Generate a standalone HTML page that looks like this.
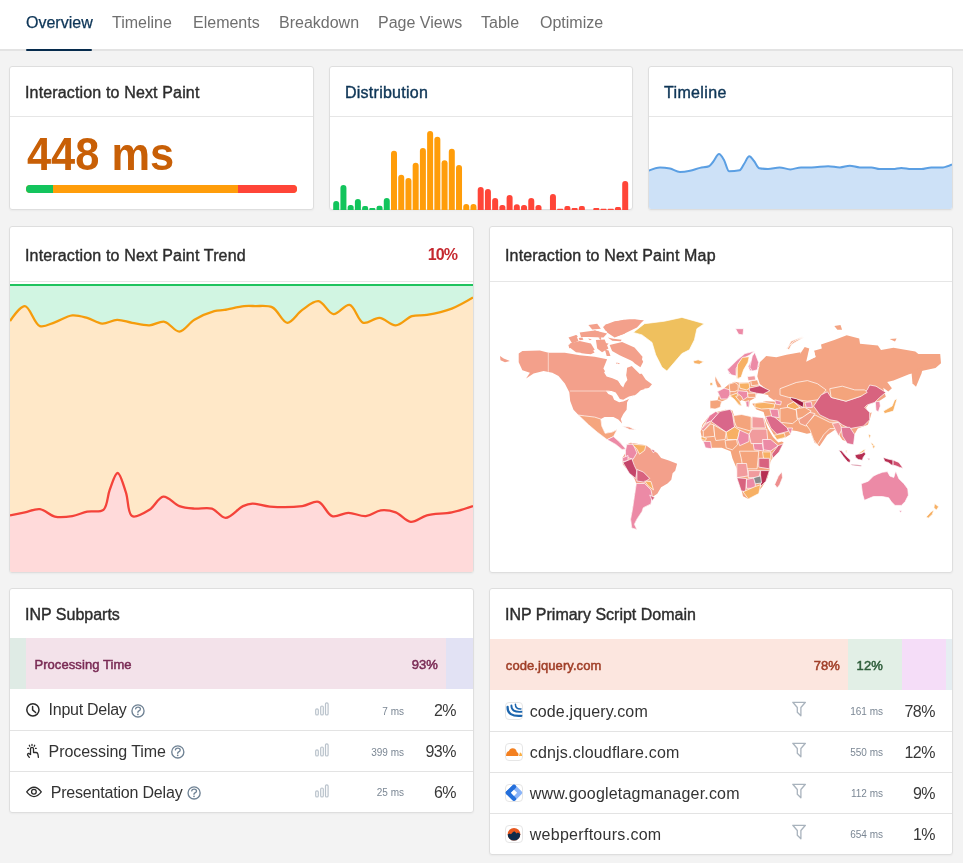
<!DOCTYPE html>
<html><head><meta charset="utf-8">
<style>
*{box-sizing:border-box;margin:0;padding:0}
html,body{width:963px;height:863px;overflow:hidden;background:#f3f3f3;font-family:"Liberation Sans",sans-serif;color:#2b2b2b}
.a{position:absolute;white-space:nowrap;line-height:1}
#nav{position:absolute;left:0;top:0;width:963px;height:49px;background:#fff}
#navline{position:absolute;left:0;top:49px;width:963px;height:2px;background:#e3e3e3}
.nv{position:absolute;top:14.5px;font-size:16px;line-height:1;color:#6f6f6f}
.nv.act{color:#0d3557;-webkit-text-stroke:0.25px #0d3557}
#ul{position:absolute;left:26px;top:49px;width:66px;height:2px;background:#062b4d;border-radius:1px}
.card{position:absolute;background:#fff;border:1px solid #dedede;border-radius:3px;box-shadow:0 1px 2px rgba(0,0,0,0.04);overflow:hidden}
.ht{position:absolute;font-size:16px;line-height:1;white-space:nowrap;color:#2d2d2d;-webkit-text-stroke:0.4px #2d2d2d;letter-spacing:0.15px}
.ht.link{color:#0e3556;-webkit-text-stroke:0.4px #0e3556}
.hdiv{position:absolute;height:1px;background:#e6e6e6}
.rowt{position:absolute;font-size:16px;line-height:1;white-space:nowrap;color:#333}
.ms{position:absolute;font-size:10px;line-height:1;white-space:nowrap;color:#7b8794;text-align:right}
.pct{position:absolute;font-size:16px;line-height:1;white-space:nowrap;color:#383838;text-align:right;letter-spacing:-0.5px;margin-top:1px}
.rdiv{position:absolute;height:1px;background:#e3e3e3}
.bt{position:absolute;font-size:13px;line-height:1;white-space:nowrap;font-weight:normal;letter-spacing:0.08px;-webkit-text-stroke:0.5px currentColor}
svg.ov{position:absolute;left:0;top:0}
</style></head>
<body>
<div id="root" style="position:absolute;left:0;top:0;width:963px;height:863px;will-change:transform">
<div id="nav"></div>
<div id="navline"></div>
<div class="nv act" style="left:26px">Overview</div>
<div class="nv" style="left:112px">Timeline</div>
<div class="nv" style="left:193px">Elements</div>
<div class="nv" style="left:279px">Breakdown</div>
<div class="nv" style="left:378px">Page Views</div>
<div class="nv" style="left:481px">Table</div>
<div class="nv" style="left:540px">Optimize</div>
<div id="ul"></div>

<!-- cards -->
<div class="card" style="left:9px;top:66px;width:305px;height:144px"></div>
<div class="card" style="left:329px;top:66px;width:304px;height:144px"></div>
<div class="card" style="left:648px;top:66px;width:305px;height:144px"></div>
<div class="card" style="left:9px;top:226px;width:465px;height:347px"></div>
<div class="card" style="left:489px;top:226px;width:464px;height:347px"></div>
<div class="card" style="left:9px;top:588px;width:465px;height:225px"></div>
<div class="card" style="left:489px;top:588px;width:464px;height:267px"></div>

<div class="hdiv" style="left:10px;top:116px;width:303px"></div>
<div class="hdiv" style="left:330px;top:116px;width:302px"></div>
<div class="hdiv" style="left:649px;top:116px;width:303px"></div>
<div class="hdiv" style="left:10px;top:281px;width:463px"></div>
<div class="hdiv" style="left:490px;top:281px;width:462px"></div>

<div class="ht" style="left:25px;top:84.5px">Interaction to Next Paint</div>
<div class="ht link" style="left:345px;top:84.5px;letter-spacing:0.25px">Distribution</div>
<div class="ht link" style="left:664px;top:84.5px;letter-spacing:0.35px">Timeline</div>
<div class="ht" style="left:25px;top:247.5px">Interaction to Next Paint Trend</div>
<div class="ht" style="left:505px;top:247.5px">Interaction to Next Paint Map</div>
<div class="ht" style="left:25px;top:607px;letter-spacing:0px">INP Subparts</div>
<div class="ht" style="left:505px;top:607px;letter-spacing:0px">INP Primary Script Domain</div>

<div class="a" style="left:26.8px;top:131px;font-size:46px;font-weight:bold;color:#c85f06;transform:scaleX(0.943);transform-origin:0 0">448 ms</div>
<div class="a" style="left:26px;top:185px;width:271px;height:8px;border-radius:4px;overflow:hidden;background:#ff9d0a">
  <div style="position:absolute;left:0;top:0;width:27px;height:8px;background:#13c45d"></div>
  <div style="position:absolute;left:212px;top:0;width:59px;height:8px;background:#ff4538"></div>
</div>
<div class="a" style="left:417px;top:246.5px;font-size:16px;font-weight:bold;letter-spacing:-0.9px;color:#c5282f;width:40px;text-align:right">10%</div>

<!-- charts overlay -->
<svg class="ov" width="963" height="863" viewBox="0 0 963 863">
  <defs>
    <clipPath id="c2"><rect x="330" y="117" width="302" height="93" /></clipPath>
    <clipPath id="c3"><rect x="649" y="117" width="303" height="92" rx="2"/></clipPath>
    <clipPath id="c4"><rect x="10" y="282" width="463" height="290" rx="2"/></clipPath>
  </defs>
  <g clip-path="url(#c2)">
<path d="M333.20,210.00 V204.00 Q333.20,201.00 336.20,201.00 H336.20 Q339.20,201.00 339.20,204.00 V210.00 Z" fill="#12c45c"/>
<path d="M340.43,210.00 V188.10 Q340.43,185.10 343.43,185.10 H343.43 Q346.43,185.10 346.43,188.10 V210.00 Z" fill="#12c45c"/>
<path d="M347.65,210.00 V207.45 Q347.65,204.90 350.20,204.90 H351.10 Q353.65,204.90 353.65,207.45 V210.00 Z" fill="#12c45c"/>
<path d="M354.88,210.00 V202.10 Q354.88,199.10 357.88,199.10 H357.88 Q360.88,199.10 360.88,202.10 V210.00 Z" fill="#12c45c"/>
<path d="M362.10,210.00 V208.00 Q362.10,206.00 364.10,206.00 H366.10 Q368.10,206.00 368.10,208.00 V210.00 Z" fill="#12c45c"/>
<path d="M369.32,210.00 V209.00 Q369.32,208.00 370.32,208.00 H374.32 Q375.32,208.00 375.32,209.00 V210.00 Z" fill="#12c45c"/>
<path d="M376.55,210.00 V207.85 Q376.55,205.70 378.70,205.70 H380.40 Q382.55,205.70 382.55,207.85 V210.00 Z" fill="#12c45c"/>
<path d="M383.77,210.00 V200.90 Q383.77,197.90 386.77,197.90 H386.77 Q389.77,197.90 389.77,200.90 V210.00 Z" fill="#12c45c"/>
<path d="M391.00,210.00 V153.80 Q391.00,150.80 394.00,150.80 H394.00 Q397.00,150.80 397.00,153.80 V210.00 Z" fill="#ff9d0a"/>
<path d="M398.22,210.00 V177.80 Q398.22,174.80 401.22,174.80 H401.22 Q404.22,174.80 404.22,177.80 V210.00 Z" fill="#ff9d0a"/>
<path d="M405.45,210.00 V180.90 Q405.45,177.90 408.45,177.90 H408.45 Q411.45,177.90 411.45,180.90 V210.00 Z" fill="#ff9d0a"/>
<path d="M412.67,210.00 V165.80 Q412.67,162.80 415.67,162.80 H415.67 Q418.67,162.80 418.67,165.80 V210.00 Z" fill="#ff9d0a"/>
<path d="M419.90,210.00 V151.00 Q419.90,148.00 422.90,148.00 H422.90 Q425.90,148.00 425.90,151.00 V210.00 Z" fill="#ff9d0a"/>
<path d="M427.12,210.00 V133.90 Q427.12,130.90 430.12,130.90 H430.12 Q433.12,130.90 433.12,133.90 V210.00 Z" fill="#ff9d0a"/>
<path d="M434.35,210.00 V139.80 Q434.35,136.80 437.35,136.80 H437.35 Q440.35,136.80 440.35,139.80 V210.00 Z" fill="#ff9d0a"/>
<path d="M441.57,210.00 V163.20 Q441.57,160.20 444.57,160.20 H444.57 Q447.57,160.20 447.57,163.20 V210.00 Z" fill="#ff9d0a"/>
<path d="M448.80,210.00 V151.80 Q448.80,148.80 451.80,148.80 H451.80 Q454.80,148.80 454.80,151.80 V210.00 Z" fill="#ff9d0a"/>
<path d="M456.02,210.00 V167.90 Q456.02,164.90 459.02,164.90 H459.02 Q462.02,164.90 462.02,167.90 V210.00 Z" fill="#ff9d0a"/>
<path d="M463.25,210.00 V207.05 Q463.25,204.10 466.20,204.10 H466.30 Q469.25,204.10 469.25,207.05 V210.00 Z" fill="#ff9d0a"/>
<path d="M470.48,210.00 V207.05 Q470.48,204.10 473.43,204.10 H473.53 Q476.48,204.10 476.48,207.05 V210.00 Z" fill="#ff9d0a"/>
<path d="M477.70,210.00 V190.00 Q477.70,187.00 480.70,187.00 H480.70 Q483.70,187.00 483.70,190.00 V210.00 Z" fill="#ff4538"/>
<path d="M484.92,210.00 V192.10 Q484.92,189.10 487.92,189.10 H487.92 Q490.92,189.10 490.92,192.10 V210.00 Z" fill="#ff4538"/>
<path d="M492.15,210.00 V201.00 Q492.15,198.00 495.15,198.00 H495.15 Q498.15,198.00 498.15,201.00 V210.00 Z" fill="#ff4538"/>
<path d="M499.38,210.00 V207.45 Q499.38,204.90 501.93,204.90 H502.82 Q505.38,204.90 505.38,207.45 V210.00 Z" fill="#ff4538"/>
<path d="M506.60,210.00 V198.10 Q506.60,195.10 509.60,195.10 H509.60 Q512.60,195.10 512.60,198.10 V210.00 Z" fill="#ff4538"/>
<path d="M513.83,210.00 V207.10 Q513.83,204.20 516.73,204.20 H516.93 Q519.83,204.20 519.83,207.10 V210.00 Z" fill="#ff4538"/>
<path d="M521.05,210.00 V207.45 Q521.05,204.90 523.60,204.90 H524.50 Q527.05,204.90 527.05,207.45 V210.00 Z" fill="#ff4538"/>
<path d="M528.27,210.00 V201.00 Q528.27,198.00 531.27,198.00 H531.27 Q534.27,198.00 534.27,201.00 V210.00 Z" fill="#ff4538"/>
<path d="M535.50,210.00 V207.45 Q535.50,204.90 538.05,204.90 H538.95 Q541.50,204.90 541.50,207.45 V210.00 Z" fill="#ff4538"/>
<path d="M549.95,210.00 V197.00 Q549.95,194.00 552.95,194.00 H552.95 Q555.95,194.00 555.95,197.00 V210.00 Z" fill="#ff4538"/>
<path d="M557.17,210.00 V209.40 Q557.17,208.80 557.77,208.80 H562.57 Q563.17,208.80 563.17,209.40 V210.00 Z" fill="#ff4538"/>
<path d="M564.40,210.00 V208.00 Q564.40,206.00 566.40,206.00 H568.40 Q570.40,206.00 570.40,208.00 V210.00 Z" fill="#ff4538"/>
<path d="M571.62,210.00 V209.00 Q571.62,208.00 572.62,208.00 H576.62 Q577.62,208.00 577.62,209.00 V210.00 Z" fill="#ff4538"/>
<path d="M578.85,210.00 V208.00 Q578.85,206.00 580.85,206.00 H582.85 Q584.85,206.00 584.85,208.00 V210.00 Z" fill="#ff4538"/>
<path d="M593.30,210.00 V209.00 Q593.30,208.00 594.30,208.00 H598.30 Q599.30,208.00 599.30,209.00 V210.00 Z" fill="#ff4538"/>
<path d="M600.52,210.00 V209.40 Q600.52,208.80 601.12,208.80 H605.92 Q606.52,208.80 606.52,209.40 V210.00 Z" fill="#ff4538"/>
<path d="M607.75,210.00 V209.40 Q607.75,208.80 608.35,208.80 H613.15 Q613.75,208.80 613.75,209.40 V210.00 Z" fill="#ff4538"/>
<path d="M614.97,210.00 V208.50 Q614.97,207.00 616.47,207.00 H619.47 Q620.97,207.00 620.97,208.50 V210.00 Z" fill="#ff4538"/>
<path d="M622.20,210.00 V184.00 Q622.20,181.00 625.20,181.00 H625.20 Q628.20,181.00 628.20,184.00 V210.00 Z" fill="#ff4538"/>
  </g>
  <g clip-path="url(#c3)">
    <path d="M648.70,170.70 C652.47,169.05 656.23,167.40 660.00,167.40 C663.33,167.40 666.67,167.85 670.00,168.60 C673.33,169.35 676.67,171.90 680.00,171.90 C683.33,171.90 686.67,171.37 690.00,170.70 C693.33,170.03 696.67,168.67 700.00,167.90 C703.00,167.20 706.00,167.33 709.00,166.20 C710.33,165.70 711.67,163.54 713.00,162.00 C715.00,159.69 717.00,154.10 719.00,154.10 C720.67,154.10 722.33,157.15 724.00,160.00 C725.67,162.85 727.33,171.20 729.00,171.20 C732.57,171.20 736.13,170.87 739.70,170.20 C741.13,169.93 742.57,166.07 744.00,164.00 C745.77,161.44 747.53,156.30 749.30,156.30 C750.87,156.30 752.43,159.17 754.00,161.00 C755.77,163.06 757.53,167.88 759.30,168.20 C762.20,168.73 765.10,169.00 768.00,169.00 C771.87,169.00 775.73,167.40 779.60,167.40 C783.17,167.40 786.73,169.40 790.30,169.40 C793.87,169.40 797.43,167.40 801.00,167.40 C804.53,167.40 808.07,167.40 811.60,167.40 C817.13,167.40 822.67,166.20 828.20,166.20 C832.10,166.20 836.00,167.40 839.90,167.40 C843.20,167.40 846.50,165.70 849.80,165.70 C853.13,165.70 856.47,167.40 859.80,167.40 C863.67,167.40 867.53,167.40 871.40,167.40 C874.17,167.40 876.93,169.10 879.70,169.10 C884.13,169.10 888.57,169.10 893.00,169.10 C895.77,169.10 898.53,167.90 901.30,167.90 C904.63,167.90 907.97,169.10 911.30,169.10 C914.63,169.10 917.97,169.10 921.30,169.10 C924.63,169.10 927.97,167.40 931.30,167.40 C935.20,167.40 939.10,167.40 943.00,167.40 C946.00,167.40 949.00,165.95 952.00,164.50 L952,212 L648,212 Z" fill="#cde1f7"/>
    <path d="M648.70,170.70 C652.47,169.05 656.23,167.40 660.00,167.40 C663.33,167.40 666.67,167.85 670.00,168.60 C673.33,169.35 676.67,171.90 680.00,171.90 C683.33,171.90 686.67,171.37 690.00,170.70 C693.33,170.03 696.67,168.67 700.00,167.90 C703.00,167.20 706.00,167.33 709.00,166.20 C710.33,165.70 711.67,163.54 713.00,162.00 C715.00,159.69 717.00,154.10 719.00,154.10 C720.67,154.10 722.33,157.15 724.00,160.00 C725.67,162.85 727.33,171.20 729.00,171.20 C732.57,171.20 736.13,170.87 739.70,170.20 C741.13,169.93 742.57,166.07 744.00,164.00 C745.77,161.44 747.53,156.30 749.30,156.30 C750.87,156.30 752.43,159.17 754.00,161.00 C755.77,163.06 757.53,167.88 759.30,168.20 C762.20,168.73 765.10,169.00 768.00,169.00 C771.87,169.00 775.73,167.40 779.60,167.40 C783.17,167.40 786.73,169.40 790.30,169.40 C793.87,169.40 797.43,167.40 801.00,167.40 C804.53,167.40 808.07,167.40 811.60,167.40 C817.13,167.40 822.67,166.20 828.20,166.20 C832.10,166.20 836.00,167.40 839.90,167.40 C843.20,167.40 846.50,165.70 849.80,165.70 C853.13,165.70 856.47,167.40 859.80,167.40 C863.67,167.40 867.53,167.40 871.40,167.40 C874.17,167.40 876.93,169.10 879.70,169.10 C884.13,169.10 888.57,169.10 893.00,169.10 C895.77,169.10 898.53,167.90 901.30,167.90 C904.63,167.90 907.97,169.10 911.30,169.10 C914.63,169.10 917.97,169.10 921.30,169.10 C924.63,169.10 927.97,167.40 931.30,167.40 C935.20,167.40 939.10,167.40 943.00,167.40 C946.00,167.40 949.00,165.95 952.00,164.50" fill="none" stroke="#5b9fe3" stroke-width="2"/>
  </g>
  <g clip-path="url(#c4)">
    <rect x="10" y="285" width="463" height="288" fill="#d1f5e2"/>
    <path d="M10.00,321.10 C10.00,321.10 20.11,305.77 24.90,306.10 C30.11,306.46 34.15,324.07 39.90,326.10 C44.41,327.69 49.69,323.95 54.80,322.30 C60.45,320.47 66.62,316.00 72.30,315.40 C77.39,314.87 82.29,316.57 87.20,317.90 C92.26,319.27 97.16,323.31 102.20,323.60 C107.13,323.88 112.11,319.93 117.10,319.80 C122.08,319.67 126.90,321.91 132.10,322.80 C137.67,323.76 143.94,325.54 149.50,325.30 C154.71,325.07 159.69,320.94 164.50,321.80 C169.68,322.72 174.50,331.81 179.40,331.60 C184.47,331.38 188.81,323.15 194.40,319.80 C200.36,316.23 208.70,312.62 214.30,311.10 C218.11,310.06 220.41,310.50 224.30,309.90 C229.82,309.04 238.55,306.63 244.20,306.10 C248.32,305.71 250.98,305.95 255.00,306.10 C260.11,306.29 267.23,304.97 272.40,307.40 C278.13,310.09 282.21,322.57 287.30,322.80 C292.19,323.02 296.99,313.54 302.30,309.90 C307.42,306.39 313.40,300.63 318.50,301.20 C323.78,301.79 328.14,313.58 333.40,314.10 C338.52,314.61 344.79,303.92 349.60,304.90 C354.89,305.97 357.84,321.04 363.30,322.80 C368.03,324.33 374.17,317.54 379.50,317.90 C384.97,318.27 390.35,325.53 395.70,325.30 C401.19,325.07 406.50,317.78 412.00,316.10 C416.91,314.60 421.34,315.82 426.90,314.90 C434.18,313.69 444.00,311.58 451.80,308.60 C459.33,305.72 473.00,297.50 473.00,297.50 L473,573 L10,573 Z" fill="#ffe8c8"/>
    <path d="M10.00,515.30 C10.00,515.30 19.93,513.33 24.90,512.30 C29.89,511.26 35.02,508.47 39.90,509.10 C44.99,509.76 49.47,515.42 54.80,516.60 C60.26,517.81 66.76,517.00 72.30,516.10 C77.53,515.25 82.08,512.65 87.20,511.60 C92.44,510.53 99.66,512.87 103.40,509.80 C107.63,506.33 107.25,496.19 109.70,489.90 C112.02,483.96 114.98,472.96 117.60,473.00 C120.38,473.05 123.54,485.52 125.90,492.40 C128.44,499.82 127.57,513.72 132.10,516.10 C136.04,518.17 144.33,513.01 149.50,509.80 C154.75,506.54 158.29,497.18 163.30,496.60 C168.26,496.03 173.94,504.11 179.40,506.10 C184.32,507.89 189.19,508.17 194.40,508.60 C199.99,509.06 206.64,507.00 211.90,508.60 C217.01,510.16 220.76,517.80 225.60,517.80 C231.05,517.80 237.91,508.41 243.00,506.10 C246.46,504.53 248.76,503.76 252.40,503.60 C257.31,503.38 263.15,506.08 269.90,506.60 C279.02,507.31 293.41,507.30 302.30,506.10 C308.69,505.24 313.67,500.54 318.50,501.90 C323.74,503.38 326.94,514.47 332.20,516.10 C337.02,517.60 342.90,512.84 348.40,512.80 C354.09,512.76 360.28,516.60 365.80,516.10 C371.06,515.62 375.73,510.90 380.80,510.30 C385.70,509.72 390.91,510.56 395.70,512.30 C400.91,514.19 405.48,521.32 410.70,521.80 C415.88,522.28 420.81,516.86 426.90,515.30 C434.20,513.43 443.90,513.92 451.80,512.30 C459.22,510.78 473.00,506.10 473.00,506.10 L473,573 L10,573 Z" fill="#ffdada"/>
    <line x1="10" y1="284.9" x2="473" y2="284.9" stroke="#1fc35e" stroke-width="2"/>
    <path d="M10.00,321.10 C10.00,321.10 20.11,305.77 24.90,306.10 C30.11,306.46 34.15,324.07 39.90,326.10 C44.41,327.69 49.69,323.95 54.80,322.30 C60.45,320.47 66.62,316.00 72.30,315.40 C77.39,314.87 82.29,316.57 87.20,317.90 C92.26,319.27 97.16,323.31 102.20,323.60 C107.13,323.88 112.11,319.93 117.10,319.80 C122.08,319.67 126.90,321.91 132.10,322.80 C137.67,323.76 143.94,325.54 149.50,325.30 C154.71,325.07 159.69,320.94 164.50,321.80 C169.68,322.72 174.50,331.81 179.40,331.60 C184.47,331.38 188.81,323.15 194.40,319.80 C200.36,316.23 208.70,312.62 214.30,311.10 C218.11,310.06 220.41,310.50 224.30,309.90 C229.82,309.04 238.55,306.63 244.20,306.10 C248.32,305.71 250.98,305.95 255.00,306.10 C260.11,306.29 267.23,304.97 272.40,307.40 C278.13,310.09 282.21,322.57 287.30,322.80 C292.19,323.02 296.99,313.54 302.30,309.90 C307.42,306.39 313.40,300.63 318.50,301.20 C323.78,301.79 328.14,313.58 333.40,314.10 C338.52,314.61 344.79,303.92 349.60,304.90 C354.89,305.97 357.84,321.04 363.30,322.80 C368.03,324.33 374.17,317.54 379.50,317.90 C384.97,318.27 390.35,325.53 395.70,325.30 C401.19,325.07 406.50,317.78 412.00,316.10 C416.91,314.60 421.34,315.82 426.90,314.90 C434.18,313.69 444.00,311.58 451.80,308.60 C459.33,305.72 473.00,297.50 473.00,297.50" fill="none" stroke="#f59c0c" stroke-width="2.3"/>
    <path d="M10.00,515.30 C10.00,515.30 19.93,513.33 24.90,512.30 C29.89,511.26 35.02,508.47 39.90,509.10 C44.99,509.76 49.47,515.42 54.80,516.60 C60.26,517.81 66.76,517.00 72.30,516.10 C77.53,515.25 82.08,512.65 87.20,511.60 C92.44,510.53 99.66,512.87 103.40,509.80 C107.63,506.33 107.25,496.19 109.70,489.90 C112.02,483.96 114.98,472.96 117.60,473.00 C120.38,473.05 123.54,485.52 125.90,492.40 C128.44,499.82 127.57,513.72 132.10,516.10 C136.04,518.17 144.33,513.01 149.50,509.80 C154.75,506.54 158.29,497.18 163.30,496.60 C168.26,496.03 173.94,504.11 179.40,506.10 C184.32,507.89 189.19,508.17 194.40,508.60 C199.99,509.06 206.64,507.00 211.90,508.60 C217.01,510.16 220.76,517.80 225.60,517.80 C231.05,517.80 237.91,508.41 243.00,506.10 C246.46,504.53 248.76,503.76 252.40,503.60 C257.31,503.38 263.15,506.08 269.90,506.60 C279.02,507.31 293.41,507.30 302.30,506.10 C308.69,505.24 313.67,500.54 318.50,501.90 C323.74,503.38 326.94,514.47 332.20,516.10 C337.02,517.60 342.90,512.84 348.40,512.80 C354.09,512.76 360.28,516.60 365.80,516.10 C371.06,515.62 375.73,510.90 380.80,510.30 C385.70,509.72 390.91,510.56 395.70,512.30 C400.91,514.19 405.48,521.32 410.70,521.80 C415.88,522.28 420.81,516.86 426.90,515.30 C434.20,513.43 443.90,513.92 451.80,512.30 C459.22,510.78 473.00,506.10 473.00,506.10" fill="none" stroke="#f4433a" stroke-width="2.3"/>
  </g>
</svg>

<!-- map -->
<svg class="ov" width="963" height="863" viewBox="0 0 963 863">
<g>
<polygon points="518.7,353.6 522.4,351.1 539.8,350.6 548.6,352.8 564.8,352.8 579.7,355.3 594.7,356.8 607.1,359.3 603.4,368.5 607.1,374.8 615.9,377.8 622.1,386.0 625.8,377.3 627.1,367.8 634.0,365.3 640.8,372.3 645.8,379.8 652.0,384.2 649.0,387.7 640.8,390.2 635.8,394.7 629.6,397.7 627.1,402.2 626.6,409.7 623.3,414.1 620.8,419.1 622.1,423.4 618.3,419.6 613.4,417.1 604.6,417.1 600.9,419.1 601.7,425.9 605.1,433.3 612.1,432.1 617.1,429.6 613.4,436.6 619.6,442.1 625.8,449.0 622.1,449.5 615.9,444.5 607.1,439.6 597.2,432.1 588.4,424.6 582.7,419.1 578.5,415.1 573.5,409.7 570.2,400.9 569.3,392.2 564.8,383.5 558.5,376.0 552.3,372.8 543.6,371.0 533.6,373.5 526.1,378.5 529.9,372.8 522.4,370.3 518.7,362.3" fill="#f3a08b"/>
<polygon points="612.3,322.5 623.6,319.7 634.8,319.2 644.1,320.6 636.6,324.3 627.3,327.1 624.5,333.7 616.1,336.5 617.9,330.0 614.2,326.2" fill="#f3a08b"/>
<polygon points="603.0,327.1 606.7,324.3 612.3,328.1 610.5,331.8 605.8,330.9" fill="#f3a08b"/>
<polygon points="607.7,337.4 613.3,338.8 621.7,339.8 620.7,341.2 612.3,340.7" fill="#f3a08b"/>
<polygon points="611.4,345.8 615.1,344.0 620.7,344.9 627.3,347.7 632.9,351.4 641.3,358.0 643.2,361.7 640.4,367.3 634.8,363.6 629.2,358.0 621.7,354.3 616.1,351.4 612.3,349.6" fill="#f3a08b"/>
<polygon points="576.8,346.8 583.4,345.8 589.9,346.8 594.6,352.4 590.8,354.3 581.5,353.3 578.7,350.5" fill="#f3a08b"/>
<polygon points="568.4,344.9 573.1,342.6 577.8,344.0 574.0,347.7 569.3,348.2" fill="#f3a08b"/>
<polygon points="572.1,337.4 576.8,335.1 577.8,337.0 573.1,337.9" fill="#f3a08b"/>
<polygon points="578.7,337.9 582.4,337.4 583.4,339.8 579.6,340.2" fill="#f3a08b"/>
<polygon points="597.4,344.0 601.1,343.5 601.6,348.2 598.3,347.7" fill="#f3a08b"/>
<polygon points="603.9,343.0 608.6,343.5 606.7,345.8 603.9,345.8" fill="#f3a08b"/>
<polygon points="598.3,337.4 601.1,337.0 601.1,340.2" fill="#f3a08b"/>
<polygon points="588.0,338.4 591.8,339.3 589.9,340.2" fill="#f3a08b"/>
<polygon points="593.6,330.0 599.3,331.8 597.4,332.8" fill="#f3a08b"/>
<polygon points="604.9,349.6 608.6,350.5 610.5,356.1 606.7,356.1" fill="#f3a08b"/>
<polygon points="615.1,361.7 619.8,363.6 617.9,365.5" fill="#f3a08b"/>
<polygon points="609.6,344.9 622.1,341.9 634.5,347.4 642.5,356.8 640.8,365.3 632.1,361.1 619.6,355.3 612.1,351.1" fill="#f3a08b"/>
<polygon points="604.6,324.9 614.6,321.2 629.6,319.4 643.3,320.4 637.0,327.4 624.6,333.6 614.6,337.4 607.1,332.4" fill="#f3a08b"/>
<polygon points="569.8,343.6 579.7,341.1 590.9,343.6 594.7,349.8 588.4,353.6 576.0,352.3 571.0,348.6" fill="#f3a08b"/>
<polygon points="568.5,337.4 576.0,334.9 578.5,341.1 572.2,343.6" fill="#f3a08b"/>
<polygon points="579.7,332.4 594.7,330.4 607.1,333.6 603.4,337.4 589.7,336.9 581.0,336.9" fill="#f3a08b"/>
<polygon points="595.9,339.9 604.6,339.4 608.4,348.6 602.1,352.3 597.2,348.6" fill="#f3a08b"/>
<polygon points="588.4,324.9 597.2,323.7 600.9,328.7 592.2,329.4" fill="#f3a08b"/>
<polygon points="500.0,356.1 503.7,358.6 509.9,361.1 505.0,362.3 500.5,360.3" fill="#f3a08b"/>
<polygon points="626.8,444.6 630.6,442.7 635.7,443.4 645.9,445.3 651.0,449.1 657.3,452.9 661.1,458.0 668.8,460.6 677.1,463.8 675.2,470.8 672.6,473.3 671.3,479.7 667.5,483.5 661.1,487.3 657.3,493.7 653.5,496.2 651.0,498.8 651.0,503.9 643.3,507.7 642.0,511.5 636.9,519.2 634.4,524.3 636.9,529.4 631.8,528.1 630.6,519.2 632.5,509.0 634.4,496.2 636.3,483.5 634.4,478.4 629.3,472.0 622.9,464.4 622.3,458.0 625.5,452.9" fill="#f3a08b"/>
<polygon points="757.3,376.3 759.8,362.3 766.2,356.0 776.3,357.3 786.5,354.7 800.5,352.2 800.0,353.9 804.7,346.9 809.3,348.5 807.8,360.2 815.6,357.1 814.0,350.8 821.8,348.5 821.0,344.6 834.3,339.9 846.7,335.2 859.2,338.4 860.0,343.8 877.9,345.4 881.0,350.0 893.5,347.7 915.3,351.6 918.4,353.9 940.2,353.9 941.0,363.3 935.5,368.0 921.5,371.1 909.0,374.2 893.5,380.4 887.2,382.0 891.9,388.2 888.3,391.6 883.2,387.8 885.8,396.7 878.1,401.8 873.0,406.9 870.5,417.0 867.9,424.7 857.8,428.5 852.7,437.4 850.1,442.5 842.5,439.9 837.4,432.3 834.9,429.8 827.2,434.9 819.6,446.3 814.5,442.5 809.4,429.8 801.8,419.6 789.1,419.6 781.4,414.5 776.3,408.1 776.3,401.8 768.7,396.7 766.2,389.1 759.8,384.0" fill="#f4a483"/>
<polygon points="834.3,325.9 840.5,325.1 842.1,329.8 837.4,329.8" fill="#f4a483"/>
<polygon points="889.6,339.1 896.6,338.4 895.0,341.5" fill="#f4a483"/>
<polygon points="911.4,371.1 923.1,367.2 921.5,373.4 916.0,386.7 912.5,383.5" fill="#f4a483"/>
<polygon points="717.5,391.6 724.1,388.2 729.1,384.1 734.9,381.8 739.1,382.8 749.0,382.4 750.7,380.8 757.3,379.9 759.0,384.9 759.8,385.7 769.8,390.7 768.1,394.9 763.2,394.1 756.5,393.2 755.7,397.4 749.9,400.7 749.0,407.3 746.5,406.5 745.7,401.5 741.6,399.9 739.9,401.5 741.6,405.7 739.1,404.9 734.1,399.0 729.9,395.7 727.4,399.0 721.6,401.5 720.0,407.3 715.0,409.0 710.0,408.2 710.0,400.7 717.5,399.9 719.1,394.9" fill="#f4a47c"/>
<polygon points="752.2,403.8 766.2,401.3 777.6,401.8 784.0,399.7 781.9,409.9 790.3,418.6 809.4,421.1 814.0,432.3 806.9,433.8 796.7,431.0 790.3,430.3 785.2,435.4 774.3,435.4 766.7,422.6 763.6,412.0 756.5,409.4" fill="#f4a47c"/>
<polygon points="702.4,424.7 707.7,417.7 714.7,412.4 725.3,409.7 732.4,410.6 734.1,415.9 743.0,416.8 751.8,417.7 764.1,418.5 767.7,428.2 773.0,437.1 778.3,442.4 781.8,441.5 783.6,442.4 780.0,449.4 774.7,454.7 770.3,461.8 769.4,470.6 767.7,477.7 762.4,486.5 757.1,493.6 748.3,498.9 743.0,496.2 741.2,488.3 737.7,479.4 736.8,468.8 732.4,458.3 730.6,451.2 721.8,447.7 709.4,447.7 702.4,440.6 700.6,431.8" fill="#f4a47c"/>
<polygon points="765.6,416.6 772.9,415.6 787.4,428.0 792.6,428.0 790.5,434.3 785.3,437.4 777.0,439.5 770.8,428.0" fill="#f4a47c"/>
<polygon points="604.1,372.4 607.4,367.4 611.6,364.1 614.9,365.0 617.4,363.3 621.6,365.8 624.9,366.6 626.5,368.3 626.1,374.9 627.4,379.9 624.9,383.2 623.2,387.4 620.7,384.9 618.2,380.7 612.4,378.2 606.6,376.6" fill="#fff"/>
<polygon points="611.6,364.1 610.8,360.0 614.9,357.5 619.9,356.6 624.9,358.3 627.4,362.5 631.5,365.8 636.5,370.8 639.8,374.1 643.2,373.3 644.0,370.8 636.5,366.6 631.5,362.5 626.5,360.0" fill="#fff"/>
<polygon points="605.8,390.7 611.6,391.1 615.7,392.4 617.4,394.9 619.9,399.0 623.2,399.8 625.7,398.2 629.0,396.5 634.9,394.9 639.8,391.5 641.5,389.9 636.5,394.0 629.0,399.0 623.2,401.5 619.1,402.3 614.1,399.8 612.4,395.7 608.3,394.0" fill="#fff"/>
<polygon points="639.8,394.9 646.5,395.7 641.5,398.2" fill="#fff"/>
<polygon points="644.0,388.2 648.1,389.0 647.3,390.7" fill="#fff"/>
<polygon points="806.2,361.7 809.3,348.5 814.0,350.8 815.6,357.1" fill="#fff"/>
<polygon points="866.0,407.4 870.3,402.6 876.0,401.8 875.3,407.4 874.7,411.7 869.7,413.0 867.2,410.5" fill="#fff"/>
</g><g stroke="#fff" stroke-width="0.7" stroke-linejoin="round">
<polygon points="633.3,332.4 644.5,323.7 664.5,321.2 681.9,317.4 704.3,323.7 696.9,328.7 694.4,339.9 689.4,349.8 681.9,353.6 674.4,362.3 666.9,371.0 662.0,367.3 655.7,354.8 652.0,342.4 642.0,334.9" fill="#efc05e"/>
<polygon points="693.1,361.1 698.1,359.8 703.8,361.8 699.3,364.3 694.4,363.6" fill="#f7b064"/>
<polygon points="600.9,419.1 601.7,425.9 605.1,433.3 612.1,432.1 617.1,429.6 613.4,436.6 607.1,439.6 597.2,432.1 588.4,424.6 582.7,419.1 578.5,415.1 584.7,415.9 594.7,417.1" fill="#f5a57e"/>
<polygon points="613.4,436.6 619.6,442.1 625.8,449.0 622.1,449.5 615.9,444.5 607.1,439.6" fill="#ec8aa6"/>
<polygon points="622.1,425.9 629.6,427.1 635.8,430.1 629.6,429.6" fill="#f3a08b"/>
<polygon points="626.8,444.6 633.1,444.0 636.9,452.9 633.1,459.3 625.5,456.8 625.5,450.4" fill="#ec8aa6"/>
<polygon points="631.8,444.0 645.9,445.3 644.6,450.4 639.5,454.2 636.9,449.1" fill="#f7b064"/>
<polygon points="622.3,458.0 628.0,455.5 628.0,460.6 622.9,461.8" fill="#ec8aa6"/>
<polygon points="622.9,462.5 631.8,458.7 634.4,465.7 636.9,470.8 635.7,478.4 629.3,473.3" fill="#c4456a"/>
<polygon points="636.9,469.5 643.3,472.0 649.7,478.4 644.6,482.2 636.9,481.0" fill="#d8637f"/>
<polygon points="644.6,481.0 651.0,481.6 653.5,489.9 648.4,486.1" fill="#f7b064"/>
<polygon points="636.3,483.5 644.6,483.5 651.0,489.9 652.2,496.2 651.0,503.9 643.3,507.7 642.0,511.5 636.9,519.2 634.4,524.3 636.9,529.4 631.8,528.1 630.6,519.2 632.5,509.0 634.4,496.2" fill="#ec8aa6"/>
<polygon points="649.7,495.0 654.8,497.5 652.2,500.7" fill="#d8637f"/>
<polygon points="651.0,449.1 654.8,450.4 653.5,452.9" fill="#d8637f"/>
<polygon points="786.5,348.3 794.1,340.7 804.3,336.9 791.6,344.5 789.1,349.6" fill="#f4a483"/>
<polygon points="787.2,348.6 791.0,341.2 803.4,336.2 792.2,342.4" fill="#f4a483"/>
<polygon points="780.0,388.7 796.2,382.5 807.4,380.6 817.4,383.7 826.1,389.9 821.1,396.2 817.4,399.9 807.4,401.2 798.7,399.9 788.7,397.4 780.0,394.9" fill="#f4a47c"/>
<polygon points="790.0,397.4 796.2,398.7 803.7,402.4 803.1,407.4 798.7,404.9 791.2,399.9" fill="#9e1c42"/>
<polygon points="787.5,404.9 793.7,401.8 799.9,407.4 795.0,409.9 787.5,407.4" fill="#f7b064"/>
<polygon points="804.9,402.4 811.2,401.8 812.4,407.4 806.2,407.4" fill="#ec8aa6"/>
<polygon points="780.0,408.6 787.5,407.4 796.2,409.9 797.4,419.8 792.5,423.6 780.0,422.3" fill="#f4a47c"/>
<polygon points="796.2,408.6 804.9,407.4 811.2,411.1 803.7,417.4 797.4,418.6" fill="#f4a47c"/>
<polygon points="798.7,419.8 809.9,412.4 814.9,413.6 808.7,422.3 806.2,426.1 799.9,423.6" fill="#f19e86"/>
<polygon points="806.2,424.8 814.9,414.9 819.9,417.4 829.8,422.3 838.6,422.3 837.3,428.6 829.8,428.6 823.6,434.8 817.4,444.8 813.6,439.8 809.9,429.8" fill="#f4a47c"/>
<polygon points="813.6,406.1 821.1,394.9 827.4,391.8 831.1,397.4 846.0,401.2 861.0,396.2 867.2,389.9 869.7,385.0 876.0,386.2 885.9,392.4 879.7,397.4 874.7,402.4 867.2,404.9 864.7,407.4 869.7,412.4 869.7,419.8 863.5,426.1 849.8,428.6 842.3,424.8 837.3,421.1 829.8,419.8 819.9,414.9" fill="#d8637f"/>
<polygon points="829.8,388.7 842.3,386.2 854.8,389.9 864.7,389.9 867.2,392.4 861.0,396.2 846.0,401.2 831.1,397.4" fill="#f4a47c"/>
<polygon points="875.3,401.8 879.7,401.2 880.3,406.1 878.4,411.7 876.0,410.5" fill="#ec8aa6"/>
<polygon points="883.4,411.1 892.1,406.1 894.6,399.9 897.1,398.7 893.4,411.1 884.7,413.6" fill="#f7b064"/>
<polygon points="832.3,423.6 838.6,422.3 842.3,428.6 838.6,436.0" fill="#f19b9d"/>
<polygon points="841.1,427.3 849.8,427.3 854.8,434.8 853.5,444.8 847.3,443.5 842.3,436.0" fill="#e07595"/>
<polygon points="715.0,375.8 716.6,378.3 718.3,381.6 720.8,384.9 721.6,387.4 717.5,387.8 716.2,384.9 715.0,380.8" fill="#f4a47c"/>
<polygon points="710.0,382.4 712.5,382.8 712.9,384.9 710.0,385.7" fill="#f7b064"/>
<polygon points="717.5,391.6 724.1,388.2 729.9,389.9 729.9,394.9 727.4,399.0 720.8,399.0 719.1,394.9" fill="#ec8aa6"/>
<polygon points="710.0,400.7 717.5,399.9 721.6,401.5 720.0,407.3 715.0,409.0 710.0,408.2" fill="#f4a47c"/>
<polygon points="729.1,384.1 734.9,382.4 738.2,384.9 738.2,389.9 734.9,391.6 729.9,391.6" fill="#f4a47c"/>
<polygon points="739.1,383.3 749.0,382.8 749.9,388.2 746.5,389.9 739.9,388.2" fill="#f7b064"/>
<polygon points="750.7,380.8 757.3,379.9 759.0,384.9 751.5,385.7" fill="#f4a47c"/>
<polygon points="747.4,376.6 754.9,375.8 755.7,379.9 748.2,380.8" fill="#f19b9d"/>
<polygon points="749.0,388.2 759.8,385.7 769.8,390.7 763.2,394.1 756.5,393.2 749.9,391.6" fill="#c94b6d"/>
<polygon points="729.9,395.7 736.6,393.2 738.2,395.7 735.7,396.5 739.9,401.5 741.6,405.7 739.1,404.9 734.1,399.0" fill="#f7b064"/>
<polygon points="738.2,390.7 747.4,391.6 748.2,396.5 743.2,399.9 741.6,396.5 737.4,393.2" fill="#ec8aa6"/>
<polygon points="747.4,393.2 755.7,393.2 755.7,397.4 748.2,397.4" fill="#f4a47c"/>
<polygon points="745.7,401.5 749.0,400.7 749.0,407.3 746.5,406.5" fill="#ec8aa6"/>
<polygon points="754.9,403.2 764.0,402.4 774.8,404.0 774.0,408.2 761.5,409.0 754.9,407.3" fill="#f7b064"/>
<polygon points="774.8,399.9 781.4,401.5 780.6,404.9 775.6,404.0" fill="#ec8aa6"/>
<polygon points="727.4,369.1 736.6,361.7 738.2,360.0 734.9,367.5 732.4,374.1 729.1,374.1" fill="#ec8aa6"/>
<polygon points="735.7,365.0 741.6,360.0 749.0,360.0 742.4,367.5 741.6,373.3 739.1,379.1 736.6,378.3" fill="#f7b064"/>
<polygon points="748.2,366.6 751.5,360.0 757.3,360.0 759.0,366.6 754.9,370.8 749.9,370.8" fill="#ec8aa6"/>
<polygon points="727.4,369.8 737.4,359.8 744.9,353.6 754.8,351.1 749.8,354.9 741.1,359.8 736.1,368.6 736.1,376.0 731.2,374.8" fill="#ec8aa6"/>
<polygon points="737.4,364.8 742.4,357.4 749.2,356.7 748.0,362.3 743.6,369.8 741.1,377.3 737.4,378.5" fill="#f7b064"/>
<polygon points="749.8,367.3 752.3,356.1 754.8,352.4 758.6,362.3 757.3,369.8 752.3,371.1" fill="#ec8aa6"/>
<polygon points="735.5,328.7 743.6,328.7 743.0,334.9 738.6,334.3" fill="#ec8aa6"/>
<polygon points="709.5,415.6 715.8,411.4 718.9,413.5 711.6,420.8 704.3,423.9 702.3,428.0 706.4,420.8" fill="#e87a9a"/>
<polygon points="701.2,429.1 706.4,423.9 709.5,421.8 710.6,422.8 703.3,431.2" fill="#f19b9d"/>
<polygon points="711.6,420.8 719.9,411.4 730.3,409.3 732.4,413.5 734.5,427.0 726.2,432.2 711.6,421.8" fill="#d9678a"/>
<polygon points="733.4,415.6 741.7,414.5 751.1,416.6 751.1,431.2 743.8,429.1 736.5,427.0 734.5,421.8" fill="#f4a47c"/>
<polygon points="752.1,416.6 763.5,417.7 765.6,428.0 752.1,428.0" fill="#f19b9d"/>
<polygon points="752.1,429.1 766.7,429.1 767.7,439.5 761.5,443.6 751.1,443.6 749.0,434.3" fill="#f19b9d"/>
<polygon points="703.3,431.2 710.6,423.9 713.7,424.9 714.7,436.3 703.3,437.4" fill="#f4a47c"/>
<polygon points="713.7,424.9 726.2,432.2 725.1,439.5 715.8,440.5 714.7,436.3" fill="#f4a47c"/>
<polygon points="726.2,432.2 734.5,427.0 739.7,430.1 737.6,439.5 727.2,439.5" fill="#f7b064"/>
<polygon points="739.7,430.1 749.0,434.3 749.0,441.5 739.7,445.7 737.6,439.5" fill="#ec8aa6"/>
<polygon points="701.2,436.3 706.4,438.4 705.4,440.5 701.2,439.5" fill="#f7b064"/>
<polygon points="703.3,441.5 710.6,441.5 711.6,448.8 705.4,447.8" fill="#ec8aa6"/>
<polygon points="725.1,440.5 736.5,439.5 737.6,444.7 732.4,449.8 726.2,447.8" fill="#f4a47c"/>
<polygon points="753.2,443.6 762.5,443.6 763.5,450.9 754.2,449.8" fill="#ec8aa6"/>
<polygon points="762.5,439.5 770.8,439.5 778.1,445.7 770.8,450.9 763.5,449.8" fill="#ec8aa6"/>
<polygon points="778.1,445.7 783.3,443.6 779.1,451.9 772.9,458.2 771.8,454.0" fill="#d8637f"/>
<polygon points="762.5,451.9 770.8,451.9 770.8,460.2 763.5,458.2" fill="#f7b064"/>
<polygon points="765.6,416.6 772.9,415.6 787.4,428.0 788.5,431.2 777.0,434.3 770.8,428.0" fill="#dc6a8a"/>
<polygon points="773.9,435.3 784.3,433.2 785.3,437.4 777.0,439.5" fill="#f7b064"/>
<polygon points="787.4,428.0 792.6,428.0 790.5,434.3" fill="#ec8aa6"/>
<polygon points="769.8,409.3 778.1,409.3 779.1,417.7 771.8,416.6" fill="#ec8aa6"/>
<polygon points="739.4,451.2 758.8,451.2 757.1,468.8 743.0,468.8 741.2,458.3" fill="#f4a47c"/>
<polygon points="758.8,458.3 769.4,458.3 769.4,468.8 758.8,467.1" fill="#d8637f"/>
<polygon points="736.8,463.5 746.5,463.5 748.3,475.9 736.8,477.7" fill="#f19b9d"/>
<polygon points="748.3,470.6 760.6,470.6 758.8,477.7 748.3,477.7" fill="#f19b9d"/>
<polygon points="760.6,470.6 769.4,470.6 765.9,481.2 760.6,486.5" fill="#b62e52"/>
<polygon points="736.8,477.7 746.5,478.6 745.6,491.8 741.2,490.9" fill="#d8637f"/>
<polygon points="746.5,479.4 755.3,477.7 755.3,488.3 746.5,488.3" fill="#ec8aa6"/>
<polygon points="753.5,477.7 760.6,475.9 761.5,483.0 755.3,483.8" fill="#8a8a8a"/>
<polygon points="743.0,491.8 755.3,486.5 760.6,484.7 758.8,493.6 748.3,498.9" fill="#f7b064"/>
<polygon points="774.7,484.4 778.3,476.3 781.8,471.7 782.5,477.7 779.7,484.7 777.2,487.9" fill="#ee8e8e"/>
<polygon points="861.2,483.8 868.3,481.2 873.4,476.1 877.2,474.2 882.3,472.3 887.4,471.6 889.9,476.1 893.8,477.4 895.7,471.0 898.9,478.7 904.0,483.8 907.8,488.9 908.4,495.2 905.2,501.6 901.4,505.4 895.0,505.4 891.2,501.6 888.7,497.8 882.3,496.5 873.4,496.5 864.4,500.3 862.5,494.0" fill="#ec8aa6"/>
<polygon points="898.9,510.5 902.0,510.5 900.8,512.5" fill="#ec8aa6"/>
<polygon points="838.7,450.0 841.6,450.8 846.6,456.6 850.3,459.9 849.9,462.8 847.4,461.6 843.3,456.6" fill="#b62e52"/>
<polygon points="854.9,455.0 858.2,454.1 862.4,453.3 864.1,451.6 865.7,454.1 863.2,457.4 862.4,460.3 858.2,459.5 855.7,457.4" fill="#b62e52"/>
<polygon points="858.2,453.7 863.2,450.0 865.7,449.1 864.1,451.6 859.9,453.7" fill="#f7b064"/>
<polygon points="867.4,458.3 869.9,458.7 869.0,460.3" fill="#b62e52"/>
<polygon points="850.8,464.1 854.1,464.5 861.6,465.3 861.1,466.2 854.9,465.7 851.6,464.9" fill="#b62e52"/>
<polygon points="883.2,457.4 888.1,459.1 893.1,460.1 893.1,465.3 891.5,464.9 888.1,462.4 884.8,461.6" fill="#b62e52"/>
<polygon points="893.1,460.1 894.8,460.8 898.9,462.4 903.1,468.2 899.8,467.4 895.6,465.7 893.1,465.3" fill="#d05070"/>
<polygon points="845.0,450.0 847.4,452.5 846.2,452.9" fill="#f7b064"/>
<polygon points="870.7,442.5 872.4,443.3 874.9,446.6 873.6,448.3" fill="#f7b064"/>
<polygon points="926.3,516.9 930.7,512.1 933.9,509.9 932.3,514.4 928.2,518.2" fill="#f7b064"/>
<polygon points="934.6,503.5 938.6,506.7 936.5,509.9 933.9,508.0" fill="#f7b064"/>
<polygon points="868.3,434.0 870.8,435.3 869.5,439.1" fill="#f7b064"/>
<polygon points="872.1,445.5 875.3,446.1 873.4,448.7" fill="#f7b064"/>
<polygon points="845.3,450.0 847.2,450.6 846.6,452.5" fill="#f7b064"/>
</g>
<path d="M569.8,391.0 H609.6 M548.3,352.8 V371.8" stroke="#fbd9cf" stroke-width="0.9" fill="none"/>
</svg>

<!-- subparts -->
<div class="a" style="left:10px;top:638px;width:463px;height:51px;background:#f3e2ea">
  <div style="position:absolute;left:0;top:0;width:16px;height:51px;background:#dfebe5"></div>
  <div style="position:absolute;left:436px;top:0;width:27px;height:51px;background:#e2e2f4"></div>
</div>
<div class="bt" style="left:34.4px;top:657.6px;color:#7a2b55">Processing Time</div>
<div class="bt" style="left:395px;top:657.6px;width:43px;text-align:right;color:#7a2b55">93%</div>

<div class="rdiv" style="left:10px;top:730px;width:463px"></div>
<div class="rdiv" style="left:10px;top:771px;width:463px"></div>

<div class="rowt" style="left:48.6px;top:702.2px;letter-spacing:-0.27px">Input Delay</div>
<div class="rowt" style="left:48.6px;top:744.1px;letter-spacing:-0.06px">Processing Time</div>
<div class="rowt" style="left:50.7px;top:784.6px;letter-spacing:-0.19px">Presentation Delay</div>

<div class="ms" style="left:344px;top:706.5px;width:60px">7 ms</div>
<div class="ms" style="left:344px;top:747.5px;width:60px">399 ms</div>
<div class="ms" style="left:344px;top:788px;width:60px">25 ms</div>
<div class="pct" style="left:396px;top:702.2px;width:60px">2%</div>
<div class="pct" style="left:396px;top:743.1px;width:60px">93%</div>
<div class="pct" style="left:396px;top:783.6px;width:60px">6%</div>

<!-- domain -->
<div class="a" style="left:490px;top:639px;width:462px;height:51px;background:#fce6df">
  <div style="position:absolute;left:358px;top:0;width:54px;height:51px;background:#e2efe6"></div>
  <div style="position:absolute;left:412px;top:0;width:44px;height:51px;background:#f5ddf8"></div>
  <div style="position:absolute;left:456px;top:0;width:6px;height:51px;background:#e6eef2"></div>
</div>
<div class="bt" style="left:505.8px;top:658.5px;color:#a03f28">code.jquery.com</div>
<div class="bt" style="left:797px;top:658.5px;width:43px;text-align:right;color:#a03f28">78%</div>
<div class="bt" style="left:856.6px;top:658.5px;color:#2f5e3b">12%</div>

<div class="rdiv" style="left:490px;top:731px;width:462px"></div>
<div class="rdiv" style="left:490px;top:772px;width:462px"></div>
<div class="rdiv" style="left:490px;top:813px;width:462px"></div>

<div class="rowt" style="left:529.7px;top:703.7px;letter-spacing:0.13px">code.jquery.com</div>
<div class="rowt" style="left:529.7px;top:744.7px;letter-spacing:0.2px">cdnjs.cloudflare.com</div>
<div class="rowt" style="left:529.7px;top:785.7px;letter-spacing:0.19px">www.googletagmanager.com</div>
<div class="rowt" style="left:529.7px;top:826.7px;letter-spacing:0.29px">webperftours.com</div>

<div class="ms" style="left:823px;top:707px;width:60px">161 ms</div>
<div class="ms" style="left:823px;top:748px;width:60px">550 ms</div>
<div class="ms" style="left:823px;top:789px;width:60px">112 ms</div>
<div class="ms" style="left:823px;top:830px;width:60px">654 ms</div>
<div class="pct" style="left:875px;top:702.7px;width:60px">78%</div>
<div class="pct" style="left:875px;top:743.7px;width:60px">12%</div>
<div class="pct" style="left:875px;top:784.7px;width:60px">9%</div>
<div class="pct" style="left:875px;top:825.7px;width:60px">1%</div>


<!-- icons -->
<svg class="ov" width="963" height="863" viewBox="0 0 963 863" style="pointer-events:none">
  <g fill="none" stroke="#2b2b2b" stroke-width="1.5" stroke-linecap="round" stroke-linejoin="round">
    <circle cx="32.9" cy="709.8" r="6.1"/>
    <path d="M32.6,706.6 V709.9 L35.6,712.5"/>
  </g>
  <g fill="none" stroke="#2b2b2b" stroke-width="1.3" stroke-linecap="round" stroke-linejoin="round">
    <path d="M30.5,754.6 V749 Q30.5,747.3 32,747.3 Q33.5,747.3 33.5,749 V752.5 H36.3 Q37.8,752.8 38,754.5 L38.4,757.4"/>
    <path d="M30.5,754.4 L28.6,753.4 Q27.3,753.6 27.6,755.2 L29.3,757.4"/>
    <path d="M32,744.4 V745.4 M29.3,745.3 L29.8,746.2 M34.7,745.3 L34.2,746.2"/>
    <path d="M27.8,748.4 H28.5 M35.5,748.4 H36.2"/>
  </g>
  <g fill="none" stroke="#2b2b2b" stroke-width="1.3" stroke-linecap="round" stroke-linejoin="round">
    <path d="M26.7,791.9 Q34,782.6 41.3,791.9 Q34,801.2 26.7,791.9 Z"/>
    <circle cx="33.9" cy="791.8" r="2.35"/>
  </g>
  <g fill="none" stroke="#6f8294" stroke-width="1.35" stroke-linecap="round">
    <circle cx="138" cy="710.9" r="6.05"/>
    <path d="M135.6,708.9 Q135.9,707.1 138,707.1 Q140.4,707.1 140.4,709 Q140.4,710.2 138.9,710.8 Q137.9,711.3 137.9,712.3"/>
    <circle cx="177.8" cy="751.9" r="6.05"/>
    <path d="M175.4,749.9 Q175.7,748.1 177.8,748.1 Q180.2,748.1 180.2,750 Q180.2,751.2 178.7,751.8 Q177.7,752.3 177.7,753.3"/>
    <circle cx="194.1" cy="792.9" r="6.05"/>
    <path d="M191.7,790.9 Q192,789.1 194.1,789.1 Q196.5,789.1 196.5,791 Q196.5,792.2 195,792.8 Q194,793.3 194,794.3"/>
  </g>
  <g fill="#6f8294">
    <circle cx="137.9" cy="714.3" r="0.85"/>
    <circle cx="177.7" cy="755.3" r="0.85"/>
    <circle cx="194" cy="796.3" r="0.85"/>
  </g>
  <g fill="none" stroke="#b9c2cb" stroke-width="1.2">
    <g transform="translate(0,0)">
      <rect x="315.7" y="708.8" width="2.6" height="6.2" rx="1.3"/>
      <rect x="320.7" y="706" width="2.6" height="9" rx="1.3"/>
      <rect x="325.5" y="702.8" width="2.6" height="12.2" rx="1.3"/>
    </g>
    <g transform="translate(0,41)">
      <rect x="315.7" y="708.8" width="2.6" height="6.2" rx="1.3"/>
      <rect x="320.7" y="706" width="2.6" height="9" rx="1.3"/>
      <rect x="325.5" y="702.8" width="2.6" height="12.2" rx="1.3"/>
    </g>
    <g transform="translate(0,82)">
      <rect x="315.7" y="708.8" width="2.6" height="6.2" rx="1.3"/>
      <rect x="320.7" y="706" width="2.6" height="9" rx="1.3"/>
      <rect x="325.5" y="702.8" width="2.6" height="12.2" rx="1.3"/>
    </g>
  </g>
  <g fill="none" stroke="#a9b3bd" stroke-width="1.3" stroke-linejoin="round">
    <path transform="translate(0,0)" d="M792.8,702.3 H805.4 L800.9,707.5 V715.8 L797.3,712.3 V707.5 Z"/>
    <path transform="translate(0,41)" d="M792.8,702.3 H805.4 L800.9,707.5 V715.8 L797.3,712.3 V707.5 Z"/>
    <path transform="translate(0,82)" d="M792.8,702.3 H805.4 L800.9,707.5 V715.8 L797.3,712.3 V707.5 Z"/>
    <path transform="translate(0,123)" d="M792.8,702.3 H805.4 L800.9,707.5 V715.8 L797.3,712.3 V707.5 Z"/>
  </g>
  <!-- favicon boxes -->
  <g fill="#fff" stroke="#e6e6e6" stroke-width="1">
    <rect x="505.5" y="702.5" width="17" height="17" rx="3.5"/>
    <rect x="505.5" y="743.5" width="17" height="17" rx="3.5"/>
    <rect x="505.5" y="784.5" width="17" height="17" rx="3.5"/>
    <rect x="505.5" y="825.5" width="17" height="17" rx="3.5"/>
  </g>
  <!-- jquery -->
  <g fill="none" stroke="#1c65ad" stroke-linecap="round">
    <path d="M507.6,707 Q507.2,716.8 521.3,715.8" stroke-width="2.3"/>
    <path d="M511.4,705.4 Q511.2,712.6 521.4,711.8" stroke-width="1.9"/>
    <path d="M515.4,704.2 Q515.3,709.2 521,708.9" stroke-width="1.5"/>
  </g>
  <!-- cloudflare -->
  <path d="M506,756 H518.2 Q519.3,753 516.8,752 Q516.3,748.2 512.6,748.2 Q509.8,748.2 509,751 Q506.2,751.3 506,756 Z" fill="#f38020"/>
  <path d="M518.9,756 H522 Q522,752.4 519.9,752.4 Q519.6,754.2 518.9,756 Z" fill="#faad3f"/>
  <!-- gtm -->
  <g transform="translate(514,792.8) rotate(45)">
    <rect x="-6.4" y="-6.4" width="12.8" height="12.8" rx="2.2" fill="#8ab4f8"/>
    <rect x="-6.4" y="-6.4" width="4.2" height="12.8" rx="2.1" fill="#246fdb"/>
    <rect x="-6.4" y="2.2" width="12.8" height="4.2" rx="2.1" fill="#246fdb"/>
    <rect x="-2.2" y="-2.2" width="4.4" height="4.4" fill="#fff"/>
  </g>
  <!-- webperftours -->
  <clipPath id="wpt"><circle cx="514" cy="834.3" r="6.3"/></clipPath>
  <g clip-path="url(#wpt)">
    <rect x="507" y="827" width="14" height="15" fill="#e6571e"/>
    <path d="M507,835 L509.5,833.6 L511,834.2 L513.2,831.8 L514.8,831.6 L516.5,833.4 L518,832.6 L521,834.5 V842 H507 Z" fill="#0d2b4a"/>
  </g>
</svg>

</div>
</body></html>
